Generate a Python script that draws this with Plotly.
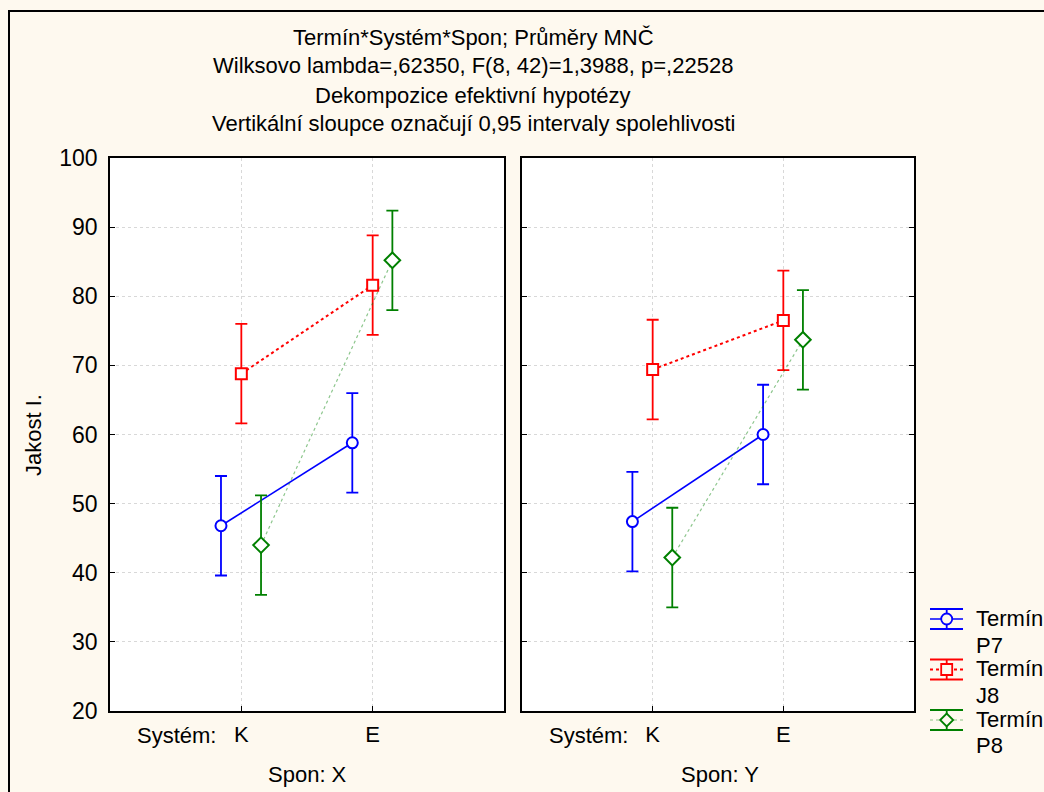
import plotly.graph_objects as go

# ---------------- data ----------------
categories = ["K", "E"]            # Systém
spon_levels = ["X", "Y"]           # Spon
terms = ["P7", "J8", "P8"]         # Termín

P7_X = [46.8, 58.8]
P7_Y = [47.4, 60.0]
J8_X = [68.8, 81.6]
J8_Y = [69.4, 76.5]
P8_X = [44.0, 85.2]
P8_Y = [42.2, 73.7]
CI_HALF = [7.2, 7.2]               # 0.95 CI half-width

y_ticks = [20, 30, 40, 50, 60, 70, 80, 90, 100]

title_lines = [
    "Termín*Systém*Spon; Průměry MNČ",
    "Wilksovo lambda=,62350, F(8, 42)=1,3988, p=,22528",
    "Dekompozice efektivní hypotézy",
    "Vertikální sloupce označují 0,95 intervaly spolehlivosti",
]

# ---------------- styling ----------------
W, H = 1044, 792
ML, MR, MT, MB = 110, 130, 158, 81
PW, PH = W - ML - MR, H - MT - MB
FONT = "Liberation Sans, Arial, sans-serif"
FS = 22
BG = "#FEF9EF"

def px_x(px):
    return (px - ML) / PW

def px_y(py):
    return (H - MB - py) / PH

series = [
    dict(term="P7", data={"X": P7_X, "Y": P7_Y}, color="#0000FF",
         symbol="circle", dash="solid", lw=1.6, lcolor="#0000FF", off=-0.155),
    dict(term="J8", data={"X": J8_X, "Y": J8_Y}, color="#FF0000",
         symbol="square", dash="dot", lw=2, lcolor="#FF0000", off=0.0),
    dict(term="P8", data={"X": P8_X, "Y": P8_Y}, color="#008000",
         symbol="diamond", dash="dot", lw=1.2, lcolor="rgba(0,128,0,0.45)", off=0.15),
]

fig = go.Figure()
base = [1, 2]
for s in series:
    for i, sp in enumerate(spon_levels):
        xa = "x" if i == 0 else "x2"
        ya = "y" if i == 0 else "y2"
        fig.add_trace(go.Scatter(
            x=[b + s["off"] for b in base],
            y=s["data"][sp],
            xaxis=xa, yaxis=ya,
            mode="lines+markers",
            name="Termín " + s["term"],
            showlegend=False,
            line=dict(color=s["lcolor"], width=s["lw"], dash=s["dash"]),
            marker=dict(symbol=s["symbol"], size=12 if s["symbol"] == "diamond" else 11,
                        color="white", line=dict(width=2, color=s["color"])),
            error_y=dict(type="data", array=CI_HALF, visible=True,
                         color=s["color"], thickness=1.8, width=6),
        ))

d1 = [0, 394 / PW]
d2 = [412 / PW, 1]
axis_common = dict(
    showline=True, linecolor="black", linewidth=1.5, mirror=True,
    showgrid=True, gridcolor="#d8d8d8", griddash="dot", gridwidth=1,
    zeroline=False,
)
xcommon = dict(axis_common, range=[0, 3], tickvals=base, ticktext=categories,
               ticks="inside", ticklen=5, tickcolor="black", ticklabelstandoff=3,
               tickfont=dict(family=FONT, size=FS, color="black"))
ycommon = dict(axis_common, range=[20, 100], tickvals=y_ticks,
               ticks="inside", ticklen=5, tickcolor="black", ticklabelstandoff=6,
               tickfont=dict(family=FONT, size=FS + 1, color="black"))

fig.update_layout(
    width=W, height=H,
    margin=dict(l=ML, r=MR, t=MT, b=MB),
    paper_bgcolor=BG, plot_bgcolor="white",
    font=dict(family=FONT, size=FS, color="black"),
    xaxis=dict(xcommon, domain=d1, anchor="y"),
    xaxis2=dict(xcommon, domain=d2, anchor="y2"),
    yaxis=dict(ycommon, anchor="x"),
    yaxis2=dict(ycommon, anchor="x2", showticklabels=False, mirror="ticks"),
    showlegend=False,
)

ann = []
for txt, py in zip(title_lines, [37, 66, 95, 124]):
    ann.append(dict(text=txt, x=px_x(473), y=px_y(py), xref="paper", yref="paper",
                    xanchor="center", yanchor="middle", showarrow=False,
                    font=dict(family=FONT, size=FS)))
for cx, lab in [(176, "Systém:"), (588, "Systém:")]:
    ann.append(dict(text=lab, x=px_x(cx), y=px_y(735), xref="paper", yref="paper",
                    xanchor="center", yanchor="middle", showarrow=False,
                    font=dict(family=FONT, size=FS)))
for cx, sp in [(307, "X"), (720, "Y")]:
    ann.append(dict(text=f"Spon: {sp}", x=px_x(cx), y=px_y(774), xref="paper", yref="paper",
                    xanchor="center", yanchor="middle", showarrow=False,
                    font=dict(family=FONT, size=FS)))
ann.append(dict(text="Jakost I.", x=px_x(33), y=px_y(435), xref="paper", yref="paper",
                xanchor="center", yanchor="middle", showarrow=False, textangle=-90,
                font=dict(family=FONT, size=FS)))

# ---------------- legend (error-bar style glyphs) ----------------
shapes = []
leg_cy = [619, 669.5, 720]
gx0, gx1, gxc = 930, 963, 946.7
cap = 10
ms = 5.5
for s, cy in zip(series, leg_cy):
    col = s["color"]
    shapes.append(dict(type="line", xref="paper", yref="paper",
                       x0=px_x(gx0), x1=px_x(gx1), y0=px_y(cy), y1=px_y(cy),
                       line=dict(color=s["lcolor"], width=s["lw"], dash=s["dash"])))
    for dy in (-cap, cap):
        shapes.append(dict(type="line", xref="paper", yref="paper",
                           x0=px_x(gx0), x1=px_x(gx1), y0=px_y(cy + dy), y1=px_y(cy + dy),
                           line=dict(color=col, width=1.8)))
    shapes.append(dict(type="line", xref="paper", yref="paper",
                       x0=px_x(gxc), x1=px_x(gxc), y0=px_y(cy - cap), y1=px_y(cy + cap),
                       line=dict(color=col, width=1.8)))
    mk = dict(xref="paper", yref="paper", fillcolor=BG, line=dict(color=col, width=1.8))
    if s["symbol"].startswith("circle"):
        shapes.append(dict(mk, type="circle", x0=px_x(gxc - ms), x1=px_x(gxc + ms),
                           y0=px_y(cy + ms), y1=px_y(cy - ms)))
    elif s["symbol"].startswith("square"):
        shapes.append(dict(mk, type="rect", x0=px_x(gxc - ms), x1=px_x(gxc + ms),
                           y0=px_y(cy + ms), y1=px_y(cy - ms)))
    else:
        d = ms + 1
        path = (f"M {px_x(gxc - d)},{px_y(cy)} L {px_x(gxc)},{px_y(cy - d)} "
                f"L {px_x(gxc + d)},{px_y(cy)} L {px_x(gxc)},{px_y(cy + d)} Z")
        shapes.append(dict(mk, type="path", path=path))
    ann.append(dict(text="Termín", x=px_x(974), y=px_y(cy - 1), xref="paper", yref="paper",
                    xanchor="left", yanchor="middle", showarrow=False,
                    font=dict(family=FONT, size=FS)))
    ann.append(dict(text=s["term"], x=px_x(974), y=px_y(cy + 26), xref="paper", yref="paper",
                    xanchor="left", yanchor="middle", showarrow=False,
                    font=dict(family=FONT, size=FS)))

# outer frame
shapes.append(dict(type="rect", xref="paper", yref="paper",
                   x0=px_x(9), x1=px_x(1060), y0=px_y(810), y1=px_y(11),
                   line=dict(color="black", width=2), fillcolor="rgba(0,0,0,0)", layer="below"))

fig.update_layout(annotations=ann, shapes=shapes)

fig.write_html("out.html")
